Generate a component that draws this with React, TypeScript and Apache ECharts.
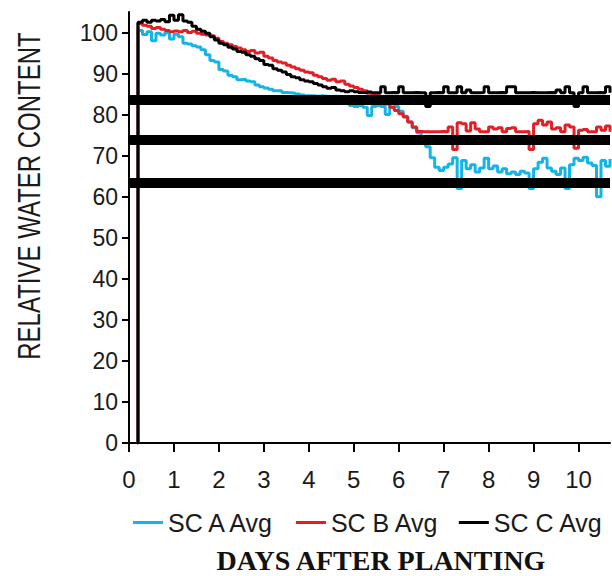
import React, { useEffect, useRef } from "react";
import * as echarts from "echarts";

const DAYS = [
  0.18, 0.2, 0.3, 0.4, 0.5, 0.6, 0.7, 0.8, 0.9, 1.0,
  1.1, 1.2, 1.3, 1.4, 1.5, 1.6, 1.7, 1.8, 1.9, 2.0,
  2.1, 2.2, 2.3, 2.4, 2.5, 2.6, 2.7, 2.8, 2.9, 3.0,
  3.1, 3.2, 3.3, 3.4, 3.5, 3.6, 3.7, 3.8, 3.9, 4.0,
  4.1, 4.2, 4.3, 4.4, 4.5, 4.6, 4.7, 4.8, 4.9, 5.0,
  5.1, 5.2, 5.3, 5.4, 5.5, 5.6, 5.7, 5.8, 5.9, 6.0,
  6.1, 6.2, 6.3, 6.4, 6.5, 6.6, 6.7, 6.8, 6.9, 7.0,
  7.1, 7.2, 7.3, 7.4, 7.5, 7.6, 7.7, 7.8, 7.9, 8.0,
  8.1, 8.2, 8.3, 8.4, 8.5, 8.6, 8.7, 8.8, 8.9, 9.0,
  9.1, 9.2, 9.3, 9.4, 9.5, 9.6, 9.7, 9.8, 9.9, 10.0,
  10.1, 10.2, 10.3, 10.4, 10.5, 10.6, 10.7,
];

const SC_A = [
  0, 100.5, 99.5, 100.2, 98, 99.8, 99.4, 100, 98.4, 99.6,
  99, 97.4, 97.2, 96.8, 96.5, 95.8, 94.6, 93.2, 92.8, 91,
  90.6, 89.6, 89.2, 88.5, 88.6, 88.2, 88, 87.2, 86.8, 86.5,
  86.2, 85.8, 85.8, 85.4, 85.3, 85.2, 85, 84.8, 84.6, 84.6,
  84.5, 84.6, 84.5, 84.4, 84.5, 84.4, 84.2, 83.8, 82.2, 82,
  82.2, 81.8, 79.8, 82, 82.2, 82, 80, 81.8, 82, 80.8,
  79.6, 78.2, 76.8, 75.6, 74.2, 72.2, 69.5, 67.2, 66.4, 67.2,
  68, 69.5, 62, 68.8, 66.8, 67.8, 66, 67, 69.4, 66.8,
  67.5, 66, 66.8, 65.6, 66, 65.4, 66.2, 65.8, 62, 66.8,
  68.4, 69.4, 67, 66.2, 65.4, 67, 62, 67.8, 69.4, 68.8,
  69.6, 68.2, 67.6, 60, 68.8, 67.4, 69.2,
];

const SC_B = [
  0, 102.2, 101.8, 101.5, 101, 101.2, 100.8, 100.5, 100.2, 100.4,
  100.2, 100.5, 100, 100.3, 99.8, 99.6, 99.4, 99.2, 98.6, 97.8,
  97.4, 97, 96.6, 96.2, 95.8, 95.4, 95.6, 95, 95.2, 94.2,
  93.8, 93.2, 92.8, 92.6, 92, 91.6, 91.2, 90.8, 90.4, 90.2,
  89.6, 89.2, 88.8, 88.4, 88.6, 88, 88.2, 87.4, 87, 86.6,
  86.2, 85.8, 85.2, 85, 84.6, 83.6, 82.6, 81.8, 81, 80.2,
  79.4, 78.2, 77, 75.9, 75.8, 75.8, 75.8, 75.8, 75.9, 75.8,
  77, 71.5, 78, 77.8, 76, 78, 76.5, 75.8, 75.8, 77,
  76.5, 76.8, 75.8, 76.6, 76.8, 75.8, 75.8, 75.9, 71.5, 77.8,
  78.6, 77.5, 78.2, 76.5, 76.8, 75.8, 77.5, 77, 71.8, 76.2,
  76.4, 75.8, 75.8, 77, 76.2, 77.2, 75.8,
];

const SC_C = [
  0, 102.5, 103, 102.5, 103, 102.8, 103.2, 102.6, 104.2, 103,
  104.3, 102.8, 102.5, 101.5, 100.8, 100.3, 99.8, 99, 98.2, 97.4,
  97, 96.4, 96, 95.4, 95.2, 94.6, 94.2, 93.6, 93.2, 92.2,
  92, 91.2, 90.8, 90.4, 89.8, 89.2, 89, 88.5, 88.2, 88,
  87.6, 87.2, 86.8, 86.4, 86.6, 86, 85.8, 85.6, 85.8, 85.6,
  85.4, 85.3, 85.5, 85.3, 85.3, 86.8, 85.3, 85.4, 85.3, 86.8,
  85.3, 85.3, 85.4, 85.3, 85.3, 82, 85.3, 85.4, 85.3, 86.8,
  85.3, 85.3, 86.8, 85.3, 86, 85.3, 85.3, 85.4, 86.8, 85.3,
  85.3, 85.4, 85.3, 86.8, 86.8, 85.3, 85.3, 85.3, 85.4, 85.3,
  85.3, 85.3, 85.4, 85.3, 86, 85.3, 86.8, 85.3, 82, 85.3,
  86.8, 85.3, 85.3, 85.4, 85.3, 86.8, 85.3,
];

const THRESHOLDS = [83.6, 73.8, 63.3];
const X_TICKS = [0, 1, 2, 3, 4, 5, 6, 7, 8, 9, 10];
const Y_TICKS = [0, 10, 20, 30, 40, 50, 60, 70, 80, 90, 100];
const SERIES_NAMES = ["SC A Avg", "SC B Avg", "SC C Avg"];
const COLORS = ["#14B4E6", "#E31E24", "#000000"];

const SANS = "'Liberation Sans', Arial, Helvetica, sans-serif";

export default function App() {
  const ref = useRef<HTMLDivElement>(null);
  useEffect(() => {
    document.body.style.margin = "0";
    if (!ref.current) return;
    const chart = echarts.init(ref.current, undefined, { renderer: "svg" });
    const values = [SC_A, SC_B, SC_C];
    const option: any = {
      animation: false,
      grid: { left: 129, right: 2, top: 12, bottom: 133 },
      legend: {
        data: SERIES_NAMES,
        left: 133,
        top: 510,
        padding: 0,
        icon: "rect",
        itemWidth: 30,
        itemHeight: 3,
        itemGap: 20,
        textStyle: { fontFamily: SANS, fontSize: 25, color: "#1a1a1a" },
      },
      xAxis: {
        type: "value",
        min: 0,
        max: 10.7,
        splitLine: { show: false },
        axisLine: { lineStyle: { color: "#000", width: 2 } },
        axisTick: { show: true, length: 9, lineStyle: { color: "#000", width: 2 }, customValues: X_TICKS },
        axisLabel: {
          customValues: X_TICKS,
          fontFamily: SANS,
          fontSize: 24,
          color: "#1a1a1a",
          margin: 24,
        },
      },
      yAxis: {
        type: "value",
        min: 0,
        max: 105,
        splitLine: { show: false },
        axisLine: { show: true, lineStyle: { color: "#000", width: 2 } },
        axisTick: { show: true, length: 7, lineStyle: { color: "#000", width: 2 }, customValues: Y_TICKS },
        axisLabel: {
          customValues: Y_TICKS,
          fontFamily: SANS,
          fontSize: 23,
          color: "#1a1a1a",
          margin: 11,
        },
      },
      series: [
        ...SERIES_NAMES.map((name, i) => ({
          name,
          type: "line",
          data: DAYS.map((d, j) => [d, values[i][j]]),
          showSymbol: false,
          symbol: "none",
          step: "end",
          color: COLORS[i],
          lineStyle: { color: COLORS[i], width: 3 },
          z: 2 + i,
        })),
        {
          name: "thresholds",
          type: "line",
          data: [],
          z: 6,
          markLine: {
            silent: true,
            symbol: "none",
            label: { show: false },
            lineStyle: { color: "#000", width: 10, type: "solid" },
            data: THRESHOLDS.map((v) => ({ yAxis: v })),
          },
        },
      ],
      graphic: [
        {
          type: "text",
          x: 29,
          y: 196,
          rotation: Math.PI / 2,
          scaleY: 1.3,
          style: {
            text: "RELATIVE WATER CONTENT",
            fontFamily: SANS,
            fontSize: 24,
            fill: "#1a1a1a",
            textAlign: "center",
            textVerticalAlign: "middle",
          },
        },
        {
          type: "text",
          x: 381,
          y: 560,
          style: {
            text: "DAYS AFTER PLANTING",
            fontFamily: "'Liberation Serif', 'Times New Roman', serif",
            fontWeight: "bold",
            fontSize: 28,
            fill: "#111",
            textAlign: "center",
            textVerticalAlign: "middle",
          },
        },
      ],
    };
    chart.setOption(option);
    return () => chart.dispose();
  }, []);
  return <div ref={ref} style={{ width: 612, height: 576 }} />;
}
